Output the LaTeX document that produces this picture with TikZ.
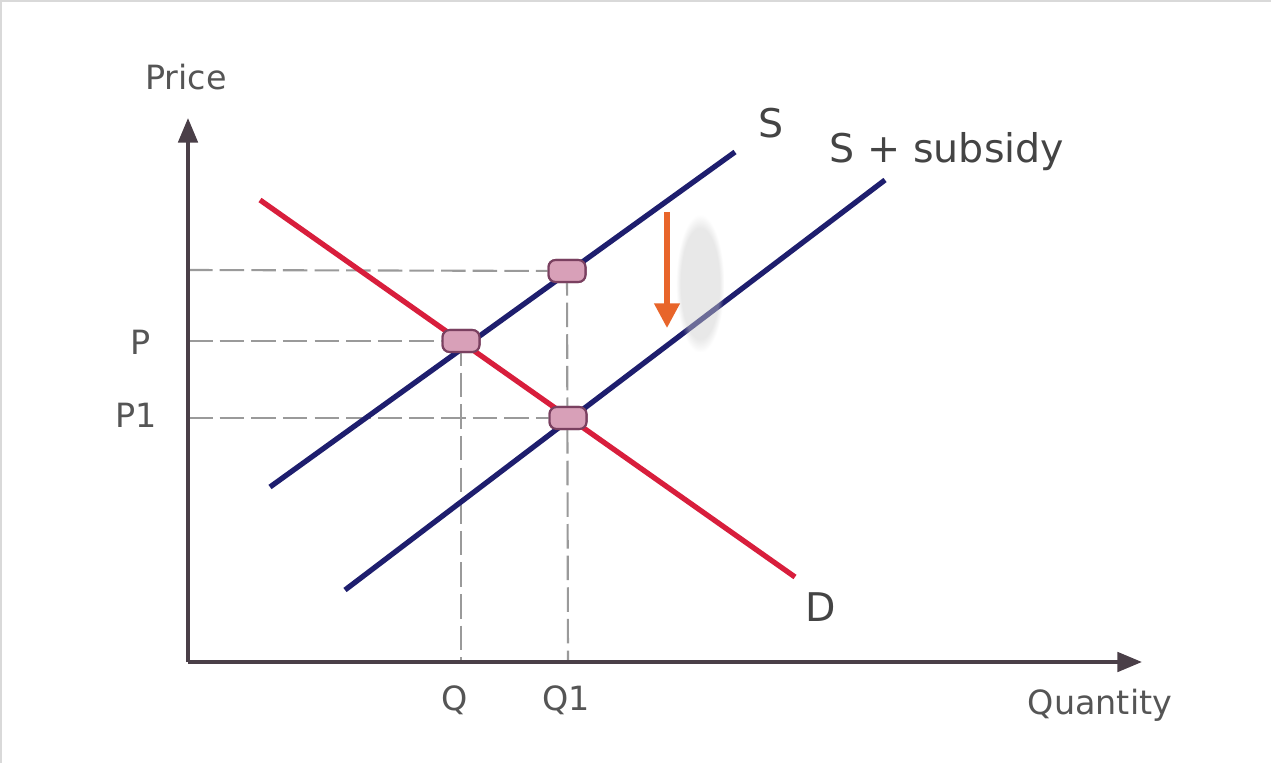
\documentclass[tikz,border=0pt]{standalone}
\usepackage{fontspec}
\setmainfont{DejaVu Sans}
\usetikzlibrary{arrows.meta,fadings}
\definecolor{axisc}{HTML}{4A3F48}
\definecolor{supc}{HTML}{1E1E6E}
\definecolor{demc}{HTML}{D81E3C}
\definecolor{dashc}{HTML}{9A9A9A}
\definecolor{txtc}{HTML}{555555}
\definecolor{markf}{HTML}{D8A0B8}
\definecolor{markd}{HTML}{7A4060}
\definecolor{arrc}{HTML}{E8652A}
\tikzset{
  axisline/.style={draw=axisc,line width=2.2pt,-{Triangle[length=14pt,width=11pt]}},
  supline/.style={draw=supc,line width=3pt},
  demline/.style={draw=demc,line width=3pt},
  guide/.style={draw=dashc,line width=1.2pt,dash pattern=on 14pt off 4pt},
  lbl/.style={text=txtc,font=\fontsize{19}{22}\selectfont,inner sep=0pt},
  biglbl/.style={text=txtc!80!black,font=\fontsize{22.5}{26}\selectfont,inner sep=0pt},
  marker/.style={rectangle,rounded corners=4pt,draw=markd,fill=markf,line width=1.2pt,minimum width=21pt,minimum height=12.5pt,inner sep=0pt}
}
\begin{document}
\begin{tikzpicture}[x=0.02cm,y=-0.02cm]
\useasboundingbox (0,0) rectangle (1271,763);
\fill[white] (0,0) rectangle (1271,763);
\draw[gray!30,line width=1.5pt] (0,1) -- (1271,1);
\draw[gray!30,line width=1.5pt] (1,0) -- (1,763);
% coordinates
\coordinate (O) at (188,662);
\coordinate (Ytop) at (188,118);
\coordinate (Xend) at (1142,662);
\coordinate (Sa) at (270,487);
\coordinate (Sb) at (735,152);
\coordinate (Ta) at (345,590);
\coordinate (Tb) at (885,180);
\coordinate (Da) at (260,200);
\coordinate (Db) at (795,577);
\coordinate (Ey) at (188,270);
\coordinate (Py) at (188,341);
\coordinate (P1y) at (188,418);
\coordinate (Qx) at (461,662);
\coordinate (Q1x) at (568,662);
% guides
\node[marker] (E) at (567,271) {};
\node[marker] (Pt) at (461,341) {};
\node[marker] (P1t) at (568,418) {};
\draw[guide] (Ey) -- (E.center);
\draw[guide] (Py) -- (Pt.center);
\draw[guide] (P1y) -- (P1t.center);
\draw[guide] (Pt.center) -- (Qx);
\draw[guide] (E.center) -- (Q1x);
% curves
\draw[supline] (Sa) -- (Sb);
\draw[supline] (Ta) -- (Tb);
\draw[demline] (Da) -- (Db);
% markers on top
\node[marker] at (E) {};
\node[marker] at (Pt) {};
\node[marker] at (P1t) {};
% axes
\draw[axisline] (O) -- (Ytop);
\draw[axisline] (O) -- (Xend);
% shadow and arrow
\fill[gray!40,opacity=0.45,path fading=circle with fuzzy edge 20 percent] (676,215) rectangle (724,352);
\coordinate (Aa) at (667,212);
\coordinate (Ab) at (667,328);
\draw[arrc,line width=3pt,-{Triangle[length=14pt,width=14pt]}] (Aa) -- (Ab);
% labels
\node[lbl] (price) at (186,77) {Price};
\node[lbl] (qty) at (1100,705) {Quantity};
\node[lbl] (plab) at (141,342) {P};
\node[lbl] (p1lab) at (136,415) {P1};
\node[lbl] (qlab) at (455,700) {Q};
\node[lbl] (q1lab) at (566,700) {Q1};
\node[biglbl] (slab) at (771,123) {S};
\node[biglbl] (sslab) at (947,152) {S + subsidy};
\node[biglbl] (dlab) at (821,607) {D};
\end{tikzpicture}
\end{document}
